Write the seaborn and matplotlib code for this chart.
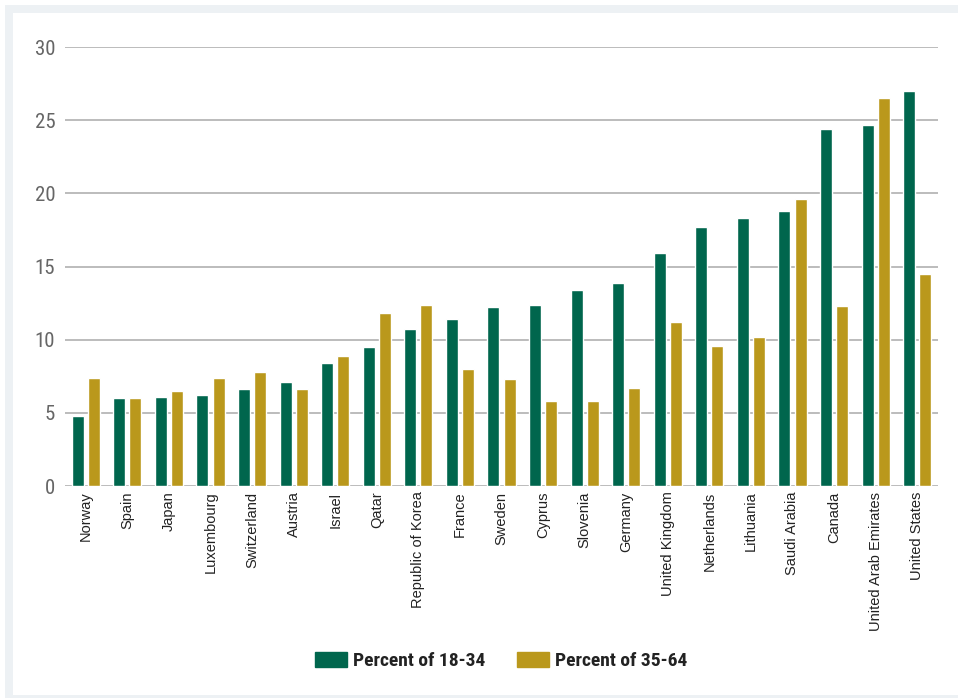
import matplotlib.pyplot as plt
import matplotlib.patches as mpatches
import pandas as pd
import seaborn as sns
from matplotlib import font_manager

countries = ["Norway", "Spain", "Japan", "Luxembourg", "Switzerland", "Austria", "Israel",
             "Qatar", "Republic of Korea", "France", "Sweden", "Cyprus", "Slovenia", "Germany",
             "United Kingdom", "Netherlands", "Lithuania", "Saudi Arabia", "Canada",
             "United Arab Emirates", "United States"]
pct_18_34 = [4.8, 6.0, 6.1, 6.2, 6.6, 7.1, 8.4, 9.5, 10.7, 11.4, 12.2, 12.4, 13.4, 13.9,
             15.9, 17.7, 18.3, 18.8, 24.4, 24.7, 27.0]
pct_35_64 = [7.4, 6.0, 6.5, 7.4, 7.8, 6.6, 8.9, 11.8, 12.4, 8.0, 7.3, 5.8, 5.8, 6.7,
             11.2, 9.6, 10.2, 19.6, 12.3, 26.5, 14.5]
series = ["Percent of 18-34", "Percent of 35-64"]
yticks = [0, 5, 10, 15, 20, 25, 30]

GREEN = "#00664d"
GOLD = "#ba981c"

sns.set_style("white")
plt.rcParams["font.family"] = ["Liberation Sans", "DejaVu Sans"]

# condensed face for ticks and legend, if one is around
installed = {f.name for f in font_manager.fontManager.ttflist}
narrow = "Liberation Sans"
for cand in ["Roboto Condensed", "Archivo Narrow", "Barlow Condensed", "Asap Condensed"]:
    if cand in installed:
        narrow = cand
        break
is_narrow = narrow != "Liberation Sans"

df = pd.DataFrame({
    "country": countries * 2,
    "value": pct_18_34 + pct_35_64,
    "series": [series[0]] * len(countries) + [series[1]] * len(countries),
})

fig = plt.figure(figsize=(9.58, 6.98), dpi=100)
fig.patch.set_facecolor("white")
# light grey frame around the white panel
fig.add_artist(mpatches.Rectangle((5 / 958, 0), 953 / 958, 693 / 698,
                                  transform=fig.transFigure, facecolor="#edf1f4",
                                  edgecolor="none", zorder=0))
fig.add_artist(mpatches.Rectangle((13 / 958, 3 / 698), 945 / 958, 682 / 698,
                                  transform=fig.transFigure, facecolor="white",
                                  edgecolor="none", zorder=0))

ax = fig.add_axes([65 / 958, 1 - 486 / 698, 873 / 958, 439 / 698])
ax.set_facecolor("none")
sns.barplot(data=df, x="country", y="value", hue="series", order=countries,
            hue_order=series, palette=[GREEN, GOLD], width=0.77, gap=0.25,
            saturation=1, ax=ax, legend=False, zorder=3)

ax.set_ylim(0, 30)
ax.set_xlim(-0.5, len(countries) - 0.5)
ax.set_yticks(yticks)
ax.set_yticklabels([str(t) for t in yticks], family=[narrow, "DejaVu Sans"],
                   fontsize=15 if is_narrow else 13, color="#666666")
ax.yaxis.grid(True, color="#b0b0b0", linewidth=1.2, zorder=0)
ax.set_axisbelow(True)
for s in ax.spines.values():
    s.set_visible(False)
ax.tick_params(axis="y", length=0, pad=7)
ax.tick_params(axis="x", length=0, pad=4)
ax.set_xticks(range(len(countries)))
ax.set_xticklabels(countries, rotation=90, fontsize=10.5, color="#222222")
ax.set_xlabel("")
ax.set_ylabel("")

handles = [mpatches.Patch(color=GREEN, label=series[0]),
           mpatches.Patch(color=GOLD, label=series[1])]
fig.legend(handles=handles, loc="center", bbox_to_anchor=(501 / 958, 1 - 661 / 698),
           ncol=2, frameon=False, handlelength=1.65, handleheight=0.85,
           columnspacing=1.65, handletextpad=0.3, labelcolor="#222222",
           prop={"family": [narrow, "DejaVu Sans"], "weight": "bold",
                 "size": 14 if is_narrow else 12})

fig.savefig("out.png", dpi=100, facecolor=fig.get_facecolor())
